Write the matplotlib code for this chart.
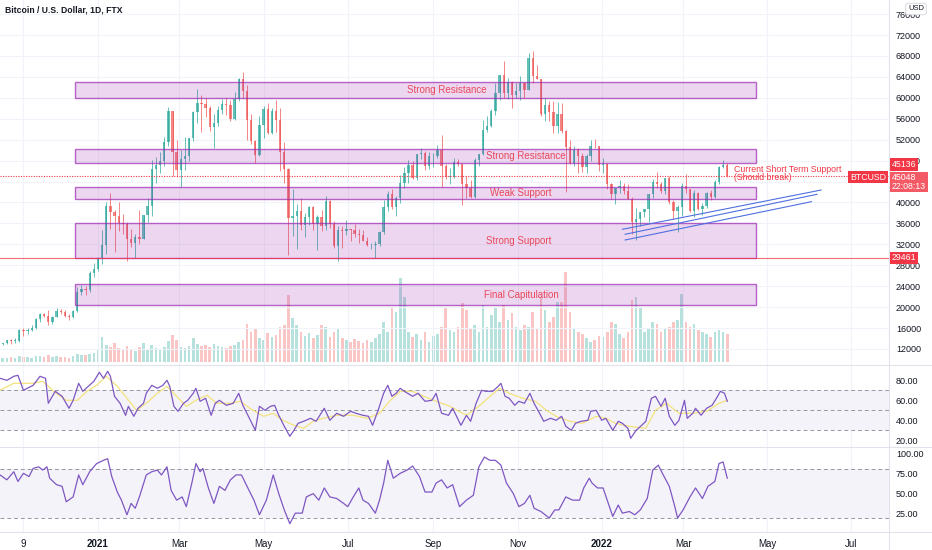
import numpy as np
import matplotlib
matplotlib.use("Agg")
import matplotlib.pyplot as plt
from matplotlib.patches import Rectangle
from matplotlib.lines import Line2D

plt.rcParams['font.family'] = ['Liberation Sans', 'DejaVu Sans']

# days counted from 2021-01-01, one candle = 3 days
first_day = -70
step = 3
first_open = 12900
closes = [13100, 13650, 13550, 13550, 15600, 15480, 15700, 16050, 17650, 18650,
          18400, 17150, 18200, 19200, 19150, 18300, 18050, 19250, 22800, 23450,
          23250, 26450, 27350, 29350, 31950, 39400, 38200, 37400, 36000, 35800,
          33000, 32300, 33400, 33100, 37600, 39300, 46400, 47200, 47900, 51600,
          57500, 49700, 46300, 48400, 48900, 52400, 57300, 59000, 58900, 58100,
          54500, 55100, 57600, 58800, 58700, 56000, 59800, 63500, 61300, 55700,
          51700, 49100, 54800, 57800, 53200, 57400, 55800, 49700, 46400, 37000,
          37500, 38400, 35700, 37300, 39200, 35800, 37300, 35500, 40200, 35800,
          31600, 34700, 34500, 35000, 34700, 33900, 33800, 32700, 31800, 31800,
          32100, 34300, 39200, 41600, 39200, 40900, 43800, 45600, 47100, 44700,
          49300, 49500, 46900, 48800, 48800, 50000, 46900, 44900, 44900, 47800,
          47300, 43600, 42800, 41000, 48200, 49200, 53800, 54700, 57400, 60900,
          64300, 61000, 63100, 60600, 61300, 62900, 61500, 67600, 64200, 63600,
          56900, 58600, 57200, 54700, 57000, 53700, 50600, 47600, 50100, 48900,
          46700, 48900, 50800, 50700, 47100, 47300, 43500, 41700, 42700, 43100,
          42200, 40700, 36300, 36900, 38200, 38700, 41600, 44000, 43500, 42200,
          44600, 40100, 38300, 39200, 43200, 42500, 38400, 41900, 38800, 39300,
          41800, 41000, 44000, 46800, 47100, 45048]
highs = [13200, 13800, 13850, 14100, 15800, 15950, 15950, 16500, 17850, 18800,
         18950, 19450, 18300, 19900, 19600, 19400, 18700, 19400, 23800, 24300,
         24100, 26900, 28400, 29600, 34800, 40000, 41900, 38500, 40000, 37800,
         36300, 34900, 34000, 38500, 37700, 40900, 48200, 48600, 49700, 52600,
         58300, 57500, 52000, 50100, 52600, 52400, 57400, 61700, 60500, 60000,
         58400, 57000, 58400, 59800, 60000, 59500, 61200, 63800, 64900, 62500,
         57000, 52000, 56500, 58400, 59000, 58000, 59500, 58000, 51500, 46600,
         42500, 39800, 40800, 37900, 39400, 39300, 37600, 38500, 41300, 40500,
         36400, 35500, 35500, 36600, 35000, 35900, 35000, 34700, 33400, 32300,
         32600, 34500, 40500, 42200, 42600, 41300, 45300, 46700, 48100, 47900,
         49300, 50500, 49800, 49600, 49500, 51000, 52900, 47400, 46500, 48500,
         48400, 47300, 45000, 44300, 48500, 49200, 55700, 56500, 57800, 62900,
         64400, 67000, 63700, 63300, 62900, 64200, 63100, 68500, 69000, 66300,
         63600, 60000, 59300, 59300, 59200, 59000, 53900, 51900, 50800, 50500,
         49500, 49300, 51900, 52100, 50800, 48500, 47600, 43800, 42800, 44300,
         43800, 43500, 41000, 38900, 38200, 38800, 41700, 44400, 45800, 43900,
         44700, 45000, 40400, 39600, 43700, 45400, 42500, 42400, 42000, 39900,
         42000, 42400, 44200, 46900, 48200, 47500]
lows = [12700, 12900, 12950, 13200, 13300, 14400, 14800, 15500, 15800, 17200,
        18100, 16500, 16800, 18100, 18600, 18200, 17600, 17900, 19100, 22300,
        22400, 22800, 25800, 27000, 28200, 30200, 35000, 30500, 34500, 33900,
        28900, 31400, 29300, 32000, 33000, 36200, 37400, 43800, 45700, 47000,
        50800, 45000, 44800, 43000, 46300, 47900, 51800, 55100, 53500, 56300,
        53700, 50400, 54700, 57000, 56800, 55500, 55800, 59300, 60000, 52000,
        51200, 47500, 48800, 52400, 53000, 53100, 53400, 46000, 43800, 30000,
        33500, 31200, 34700, 33400, 35700, 34800, 31000, 34600, 34700, 35200,
        31300, 28800, 31300, 33800, 32700, 33400, 32200, 32700, 31600, 31100,
        29300, 31700, 33900, 38300, 38700, 37400, 39900, 42800, 43800, 44400,
        44200, 48300, 46300, 46400, 46800, 48500, 43000, 44400, 43500, 44700,
        46900, 39600, 40800, 40800, 40800, 46900, 49000, 53500, 54400, 56800,
        59500, 60000, 59700, 58000, 59900, 59500, 60000, 61400, 62800, 63500,
        56600, 55600, 55600, 53300, 53300, 53300, 42000, 47400, 46900, 45700,
        45800, 45600, 48000, 50400, 46000, 45700, 42600, 40600, 39700, 41900,
        41600, 40600, 34000, 32900, 35500, 37300, 36300, 40900, 42700, 41800,
        41600, 39700, 36800, 34300, 37500, 41900, 38100, 37200, 38500, 37600,
        38900, 40500, 40900, 43600, 46600, 44900]
volume = [4, 4, 5, 4, 6, 5, 5, 4, 6, 6, 5, 7, 5, 6, 5, 5, 4, 6,
          8, 7, 7, 8, 9, 12, 25, 17, 15, 19, 14, 12, 16,
          12, 11, 15, 19, 13, 17, 14, 13, 15, 21, 27,
          22, 15, 14, 16, 24, 18, 16, 17, 15, 18, 16,
          15, 14, 16, 17, 20, 22, 38, 30, 34, 24, 22, 29, 25, 27,
          35, 37, 67, 44, 37, 30, 26, 29, 24, 27, 37, 35, 25, 30, 34,
          24, 22, 20, 23, 21, 19, 22, 20, 24, 28, 40, 30, 54, 50, 84, 65, 30,
          25, 28, 22, 30, 20, 26, 28, 35, 54,
          32, 30, 35, 59, 52, 33, 37, 30, 57, 35, 47, 54, 40,
          57, 42, 49, 35, 32, 37, 35, 50, 33, 65, 52, 40, 45, 60, 60,
          90, 50, 34, 30, 28, 24, 20, 22, 26, 25,
          30, 40, 38, 28, 24, 30, 62, 65, 54, 30,
          34, 40, 38, 30, 34, 35, 40, 42, 68, 40,
          35, 38, 32, 30, 28, 25, 30, 32, 30, 28]

rsi_day = [-71, -66, -61, -58, -54, -47, -42, -38, -36, -31, -26, -21, -18, -14, -11, -7, -3, 1, 4, 7,
           9, 12, 16, 20, 22, 26, 29, 33, 35, 39, 43, 47, 50, 52, 55, 58, 62, 65, 69, 71,
           74, 78, 82, 85, 88, 93, 98, 102, 105, 109, 114, 117, 121, 125, 128, 131, 135, 139, 142, 145,
           149, 154, 158, 164, 168, 173, 178, 183, 187, 192, 196, 199, 203, 207, 210, 213, 216, 219, 222, 228,
           232, 237, 242, 245, 249, 254, 257, 263, 267,
           270, 274, 278, 281, 286, 290, 292, 295, 298, 302, 305, 309, 313, 316, 320, 323, 328, 332, 336, 339,
           343, 346, 350, 355, 357, 361, 365, 368, 373, 377, 380, 384, 386, 390, 394, 397, 401, 404, 408, 411,
           414, 418, 421, 425, 427, 431, 433, 437, 441, 445, 449, 451, 454, 456]
rsi = [82, 80, 84, 85, 70, 75, 84, 82, 57, 69, 64, 52, 60, 77, 69, 74, 79, 88, 82, 89,
       84, 64, 57, 45, 54, 44, 52, 57, 67, 75, 72, 75, 80, 74, 54, 49, 57, 60, 67, 72,
       59, 62, 45, 57, 60, 55, 57, 67, 55, 44, 30, 54, 50, 54, 55, 45, 34, 24, 30, 37,
       39, 42, 39, 52, 40, 47, 44, 49, 47, 45, 44, 35, 50, 67, 75, 64, 67, 72, 69, 64,
       67, 59, 60, 67, 47, 45, 52, 35, 45,
       39, 57, 70, 69, 69, 74, 77, 64, 62, 55, 59, 57, 67, 57, 47, 39, 42, 40, 44, 34,
       30, 37, 39, 40, 49, 50, 40, 42, 30, 39, 37, 32, 22, 30, 35, 39, 62, 64, 54, 62,
       44, 35, 40, 60, 42, 47, 52, 45, 52, 55, 64, 69, 67, 59]
rsi_ma_day = [-71, -61, -47, -40, -32, -23, -15, -8, -1, 6, 14, 21, 28, 35, 43, 50, 57, 64, 71, 79,
              86, 96, 103, 110, 120, 127, 134, 142, 149, 156, 163, 173, 185, 195, 204, 212, 219, 228, 236, 245,
              255, 267, 276, 284, 291, 298, 308, 317, 325, 332, 342, 351, 361, 368, 375, 385, 397, 404, 412, 421,
              431, 441, 450, 456]
rsi_ma = [70, 77, 77, 79, 69, 60, 60, 69, 75, 84, 74, 62, 50, 57, 67, 74, 64, 54, 60, 65,
          57, 57, 59, 52, 44, 47, 40, 35, 32, 39, 42, 45, 45, 42, 47, 60, 69, 69, 64, 59,
          54, 45, 54, 64, 72, 67, 62, 59, 50, 44, 39, 37, 44, 42, 37, 34, 32, 50, 57, 47,
          47, 49, 57, 60]
osc_day = [-71, -66, -61, -58, -54, -50, -47, -43, -40, -37, -35, -30, -26, -23, -18, -14, -11, -6, -1, 4,
           7, 10, 14, 17, 21, 24, 27, 30, 35, 39, 43, 46, 50, 53, 57, 61, 64, 68, 71, 74,
           76, 80, 84, 88, 92, 96, 100, 104, 108, 113, 117, 122, 127, 131, 135, 139, 143, 148, 151, 156,
           160, 164, 168, 173, 178, 181, 185, 189, 192, 196, 201, 204, 207, 210, 214, 219, 224, 228, 233, 237,
           242, 245, 249, 253, 257, 262, 267,
           272, 276, 280, 284, 288, 292, 296, 301, 305, 309, 313, 316, 321, 327, 331, 334, 339, 344, 349, 352,
           356, 358, 362, 366, 369, 373, 377, 380, 385, 389, 393, 398, 402, 406, 409, 414, 418, 420, 424, 429,
           433, 438, 442, 447, 450, 453, 456]
osc = [73, 67, 77, 65, 75, 71, 81, 83, 79, 83, 69, 61, 59, 40, 46, 73, 61, 77, 87, 91,
       93, 71, 52, 42, 24, 38, 32, 46, 73, 77, 79, 73, 83, 54, 42, 46, 34, 63, 87, 77,
       81, 57, 38, 59, 54, 67, 73, 73, 59, 42, 24, 42, 73, 50, 30, 13, 26, 26, 46, 50,
       42, 57, 46, 44, 38, 34, 46, 57, 42, 38, 26, 42, 63, 91, 69, 75, 79, 84, 71, 52,
       52, 63, 67, 57, 61, 34, 42,
       48, 83, 95, 91, 91, 85, 63, 50, 34, 38, 48, 32, 28, 20, 30, 30, 46, 42, 42, 57,
       69, 63, 57, 57, 42, 22, 36, 26, 28, 24, 30, 44, 79, 85, 75, 59, 34, 20, 30, 46,
       57, 44, 59, 65, 87, 89, 69]

zone_names = ["Strong Resistance", "Strong Resistance", "Weak Support", "Strong Support", "Final Capitulation"]
zone_low = [60000, 47500, 40700, 29461, 20400]
zone_high = [63000, 50300, 42900, 36000, 24400]
zone_label_day = [253, 310, 306, 305, 307]
zone_label_price = [61500, 48900, 41800, 32700, 22400]
zone_start, zone_end = -17, 477

trend_days = [(380, 524), (382, 521), (382, 517)]
trend_prices = [(34870, 42380), (33920, 41560), (32830, 40150)]

last_price = 45048
high_price = 45136
low_line = 29461

price_ticks = list(range(12000, 76001, 4000))
hidden_ticks = [44000]  # sits fully under the last-price box
date_ticks = [-54, 0, 59, 120, 181, 243, 304, 365, 424, 485, 546]
date_labels = ["9", "2021", "Mar", "May", "Jul", "Sep", "Nov", "2022", "Mar", "May", "Jul"]

GREEN = '#26a69a'
RED = '#ef5350'
TXT = '#131722'
GRID = '#f0f3fa'
W, H = 932, 550
XL = (-71, 573.2)

fig = plt.figure(figsize=(W / 100, H / 100), dpi=100)
fig.patch.set_facecolor('white')


def pane(top, bottom):
    a = fig.add_axes([0, 1 - bottom / H, 889 / W, (bottom - top) / H])
    for s in a.spines.values():
        s.set_visible(False)
    a.set_xlim(*XL)
    a.set_xticks(date_ticks)
    a.grid(True, axis='x', color=GRID, lw=0.8)
    a.yaxis.tick_right()
    a.tick_params(axis='both', length=0, labelsize=6.5, colors=TXT)
    a.tick_params(axis='y', pad=5)
    return a


ax = pane(0, 365)
ax_rsi = pane(365, 447)
ax_osc = pane(447, 532)

# --- volume behind the candles
days = first_day + 1 + step * np.arange(len(closes))
c = np.array(closes, float)
o = np.array([first_open] + closes[:-1], float)
hi = np.array(highs, float)
lo = np.array(lows, float)
up = c >= o
cols = np.where(up, GREEN, RED)

axv = ax.twinx()
axv.set_zorder(0)
ax.set_zorder(1)
ax.patch.set_visible(False)
axv.bar(days, volume, width=1.9, color=cols, alpha=0.33, lw=0)
axv.set_ylim(-3, 362)
axv.set_xlim(*XL)
axv.axis('off')

ax.yaxis.tick_right()
ax.set_ylim(8942, 78692)
ax.set_yticks(price_ticks)
ax.set_yticklabels(['' if p in hidden_ticks else str(p) for p in price_ticks])
ax.grid(True, axis='y', color=GRID, lw=0.8)
ax.tick_params(axis='x', labelbottom=False)

# --- candles
ax.vlines(days, lo, hi, colors=cols, lw=0.7, alpha=0.7, zorder=2)
body = np.maximum(np.abs(c - o), 150)
ax.bar(days, body, bottom=np.minimum(o, c), width=1.7, color=cols, alpha=0.7, lw=0, zorder=2)

# --- zones
for name, zl, zh, ld, lp in zip(zone_names, zone_low, zone_high, zone_label_day, zone_label_price):
    ax.add_patch(Rectangle((zone_start, zl), zone_end - zone_start, zh - zl,
                           facecolor=(0.61, 0.15, 0.69, 0.18), edgecolor=(0.61, 0.15, 0.69, 0.7),
                           lw=1.0, zorder=3))
    ax.text(ld, lp, name, color='#e8485a', fontsize=7, ha='center', va='center', zorder=4)

for (d0, d1), (p0, p1) in zip(trend_days, trend_prices):
    ax.plot([d0, d1], [p0, p1], color='#4f6fe0', lw=0.8, zorder=4)

ax.axhline(last_price, color='#f23645', lw=0.8, ls=(0, (1, 1.3)), zorder=4)
ax.axhline(low_line, color='#f23645', lw=0.8, alpha=0.75, zorder=4)

ax.text(461, 46250, "Current Short Term Support", color='#f23645', fontsize=6.3, va='center', zorder=5)
ax.text(461, 44850, "(Should break)", color='#f23645', fontsize=6.3, va='center', zorder=5)

# --- RSI pane
ax_rsi.set_ylim(13.3, 95.3)
ax_rsi.set_yticks([20, 40, 60, 80])
ax_rsi.set_yticklabels(["20.00", "40.00", "60.00", "80.00"])
ax_rsi.axhspan(30, 70, color='#7e57c2', alpha=0.07, lw=0)
for v in (70, 50, 30):
    ax_rsi.axhline(v, color='#9598a1', lw=0.7, ls=(0, (4, 3)))
ax_rsi.plot(rsi_ma_day, rsi_ma, color='#f3e27c', lw=0.9)
ax_rsi.plot(rsi_day, rsi, color='#7e57c2', lw=0.9)
ax_rsi.tick_params(axis='x', labelbottom=False)

# --- second oscillator pane
ax_osc.set_ylim(2.8, 107.4)
ax_osc.set_yticks([25, 50, 75, 100])
ax_osc.set_yticklabels(["25.00", "50.00", "75.00", "100.00"])
ax_osc.axhspan(20, 80, color='#7e57c2', alpha=0.07, lw=0)
for v in (80, 20):
    ax_osc.axhline(v, color='#9598a1', lw=0.7, ls=(0, (4, 3)))
ax_osc.plot(osc_day, osc, color='#7e57c2', lw=0.9)
ax_osc.set_xticklabels(date_labels)
ax_osc.tick_params(axis='x', pad=5, labelsize=7)
for t in ax_osc.get_xticklabels():
    if t.get_text() in ("2021", "2022"):
        t.set_fontweight('bold')

# --- frame lines
for yy in (365, 447, 532):
    fig.add_artist(Line2D([0, 1], [1 - yy / H, 1 - yy / H], color='#e0e3eb', lw=0.8))
fig.add_artist(Line2D([889 / W, 889 / W], [0, 1], color='#e0e3eb', lw=0.8))

# --- texts and price labels
fig.text(5 / W, 1 - 10 / H, "Bitcoin / U.S. Dollar, 1D, FTX", fontsize=6.2, color=TXT,
         fontweight='bold', va='center')
fig.text(916 / W, 1 - 9 / H, "USD", fontsize=5.5, color=TXT, ha='center', va='center',
         bbox=dict(boxstyle='round,pad=0.3', fc='white', ec='#d1d4dc', lw=0.6))


def price_box(x, y, s, fc, ha='left'):
    fig.text(x / W, 1 - y / H, s, fontsize=6.3, color='white', ha=ha, va='center', zorder=10,
             linespacing=0.95, bbox=dict(boxstyle='square,pad=0.18', fc=fc, ec='none'))


price_box(892, 164.5, str(high_price), '#f23645')
price_box(892, 182, "%d\n22:08:13" % last_price, '#f45a66')
price_box(886, 177, "BTCUSD", '#f23645', ha='right')
price_box(892, 258, str(low_line), '#f23645')

fig.savefig("out.png", dpi=100)
